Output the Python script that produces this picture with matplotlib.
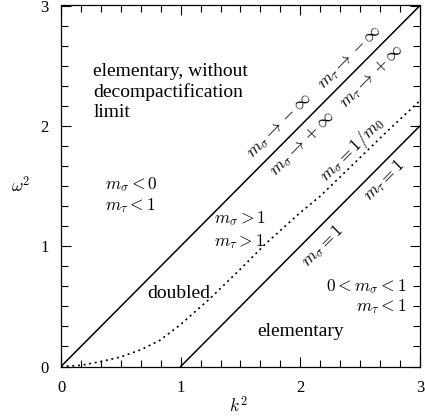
import matplotlib
matplotlib.use("Agg")
import matplotlib.pyplot as plt
from matplotlib.ticker import MultipleLocator

plt.rcParams['font.family'] = 'serif'
plt.rcParams['font.serif'] = ['Liberation Serif', 'DejaVu Serif']
plt.rcParams['mathtext.fontset'] = 'cm'

# light cone omega^2 = k^2 and shifted line omega^2 = k^2 - 1
cone_k2 = [0, 3]
cone_w2 = [0, 3]
shift_k2 = [1, 3]
shift_w2 = [0, 2]

# dotted curve m_sigma = 1/m_0
curve_k2 = [0, 0.17, 0.33, 0.5, 0.67, 0.83, 1.0, 1.24, 1.5, 1.71, 2.0, 2.16, 2.4, 2.71, 3.0]
curve_w2 = [0, 0.01, 0.04, 0.08, 0.14, 0.22, 0.35, 0.56, 0.81, 1.02, 1.28, 1.41, 1.64, 1.94, 2.21]

# region labels: (text, k2, w2, ha)
region_labels = [
    ("elementary, without\ndecompactification\nlimit", 0.27, 2.28, 'left'),
    ("doubled", 0.72, 0.61, 'left'),
    ("elementary", 2.0, 0.29, 'center'),
]
math_labels = [
    (r"$m_\sigma < 0$", 0.37, 1.51, 'left'),
    (r"$m_\tau < 1$", 0.37, 1.34, 'left'),
    (r"$m_\sigma > 1$", 1.28, 1.23, 'left'),
    (r"$m_\tau > 1$", 1.28, 1.04, 'left'),
    (r"$0 < m_\sigma < 1$", 2.89, 0.66, 'right'),
    (r"$m_\tau < 1$", 2.89, 0.5, 'right'),
]
# labels along the lines, rotated 45 deg: (text, k2, w2)
line_labels = [
    (r"$m_\sigma \rightarrow -\infty$", 1.83, 2.0),
    (r"$m_\tau \rightarrow -\infty$", 2.42, 2.57),
    (r"$m_\sigma \rightarrow +\infty$", 2.02, 1.85),
    (r"$m_\tau \rightarrow +\infty$", 2.6, 2.41),
    (r"$m_\sigma = 1/m_0$", 2.44, 1.80),
    (r"$m_\tau = 1$", 2.70, 1.55),
    (r"$m_\sigma = 1$", 2.19, 1.0),
]

fig = plt.figure(figsize=(4.25, 4.19), dpi=100)
ax = fig.add_axes([61 / 425, 52.5 / 419, 359 / 425, 361 / 419])

ax.plot(cone_k2, cone_w2, color='black', lw=1.1)
ax.plot(shift_k2, shift_w2, color='black', lw=1.1)
ax.plot(curve_k2, curve_w2, color='black', lw=1.2, linestyle=(0, (1.2, 2.2)))

for txt, x, y, ha in region_labels:
    ax.text(x, y, txt, ha=ha, va='center', fontsize=14, linespacing=1.25)
for txt, x, y, ha in math_labels:
    ax.text(x, y, txt, ha=ha, va='center', fontsize=12.5)
for txt, x, y in line_labels:
    ax.text(x, y, txt, ha='center', va='center', fontsize=12.5,
            rotation=45, rotation_mode='anchor')

ax.set_xlim(0, 3)
ax.set_ylim(0, 3)
ax.xaxis.set_major_locator(MultipleLocator(1))
ax.yaxis.set_major_locator(MultipleLocator(1))
ax.xaxis.set_minor_locator(MultipleLocator(1 / 6))
ax.yaxis.set_minor_locator(MultipleLocator(1 / 6))
ax.tick_params(which='both', direction='in', top=True, right=True, width=0.8)
ax.tick_params(which='major', length=7, labelsize=12)
ax.tick_params(which='minor', length=5)
ax.tick_params(axis='x', which='major', pad=10)
ax.tick_params(axis='y', which='major', pad=9)
for sp in ax.spines.values():
    sp.set_linewidth(0.9)

ax.text(-0.34, 1.5, r"$\omega^2$", ha='center', va='center', fontsize=12.5)
ax.text(1.48, -0.33, r"$k^2$", ha='center', va='center', fontsize=12.5)

fig.savefig("out.png", dpi=100)
